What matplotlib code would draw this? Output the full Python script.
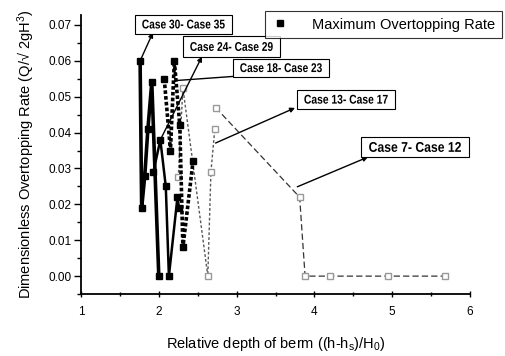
import matplotlib
matplotlib.use("Agg")
import matplotlib.pyplot as plt
from matplotlib.patches import Rectangle, PathPatch
from matplotlib.textpath import TextPath
from matplotlib.font_manager import FontProperties
from matplotlib.transforms import Affine2D, ScaledTranslation
from matplotlib.ticker import MultipleLocator, FormatStrFormatter

plt.rcParams["font.family"] = ["Liberation Sans", "DejaVu Sans"]
plt.rcParams["mathtext.fontset"] = "custom"
plt.rcParams["mathtext.rm"] = "Liberation Sans"
plt.rcParams["mathtext.it"] = "Liberation Sans"

# values
x_30_35 = [1.76, 1.78, 1.82, 1.86, 1.91, 2.00]
y_30_35 = [0.060, 0.019, 0.028, 0.041, 0.054, 0.000]

x_24_29 = [1.93, 2.02, 2.09, 2.13, 2.24, 2.26]
y_24_29 = [0.029, 0.038, 0.025, 0.000, 0.022, 0.019]

x_18_23 = [2.07, 2.15, 2.20, 2.27, 2.31, 2.44]
y_18_23 = [0.055, 0.035, 0.060, 0.042, 0.008, 0.032]

x_13_17 = [2.25, 2.31, 2.63, 2.67, 2.72]
y_13_17 = [0.0275, 0.0525, 0.000, 0.029, 0.041]

x_7_12 = [2.73, 3.81, 3.88, 4.20, 4.95, 5.68]
y_7_12 = [0.047, 0.022, 0.000, 0.000, 0.000, 0.000]

labels = ["Case 30- Case 35", "Case 24- Case 29", "Case 18- Case 23",
          "Case 13- Case 17", "Case 7- Case 12"]
# arrow start on curve, arrow tip at the box
arrow_from = [(1.76, 0.060), (2.02, 0.038), (2.21, 0.0545), (2.73, 0.0371), (3.78, 0.0249)]
arrow_to = [(1.925, 0.0679), (2.555, 0.0612), (3.237, 0.0561), (3.751, 0.0469), (4.689, 0.0332)]
# label boxes: x0, x1, y0, y1
boxes = [(1.694, 2.941, 0.0676, 0.0729), (2.311, 3.558, 0.0612, 0.0668),
         (2.954, 4.188, 0.0556, 0.0606), (3.776, 5.036, 0.0466, 0.0520),
         (4.599, 5.987, 0.0332, 0.0388)]
# ink height of the label text in pixels
label_h = [9, 9, 9, 9, 10]

fig = plt.figure(figsize=(5.06, 3.56), dpi=100)
ax = fig.add_axes([0.160, 0.174, 0.769, 0.784])

ax.plot(x_30_35, y_30_35, color="k", lw=2.6, marker="s", ms=4.5, zorder=5)
ax.plot(x_24_29, y_24_29, color="k", lw=1.8, marker="s", ms=4.5, zorder=5)
ax.plot(x_18_23, y_18_23, color="k", lw=2.6, ls=(0, (1, 0.6)), marker="s", ms=4.5, zorder=4)
ax.plot(x_13_17, y_13_17, color="0.35", lw=1.0, ls=(0, (2, 1.5)), marker="s", ms=4,
        mfc="white", mec="0.6", zorder=3)
ax.plot(x_7_12, y_7_12, color="0.2", lw=0.9, ls=(0, (5, 2.5)), marker="s", ms=4,
        mfc="white", mec="0.6", zorder=3)

ax.set_xlim(1, 6)
ax.set_ylim(-0.005, 0.0728)

# condensed bold labels: text outlines squeezed horizontally to fit the boxes
fp = FontProperties(family="Liberation Sans", weight="bold")
for lab, a0, a1, b, h in zip(labels, arrow_from, arrow_to, boxes, label_h):
    ax.annotate("", xy=a1, xytext=a0, annotation_clip=False,
                arrowprops=dict(arrowstyle="-|>", color="k", lw=1.0,
                                mutation_scale=7, shrinkA=0, shrinkB=0), zorder=6)
    ax.add_patch(Rectangle((b[0], b[2]), b[1] - b[0], b[3] - b[2], fc="white",
                           ec="k", lw=0.8, zorder=7, clip_on=False))
    tp = TextPath((0, 0), lab, size=10, prop=fp)
    ext = tp.get_extents()
    box_w = ax.transData.transform((b[1], 0))[0] - ax.transData.transform((b[0], 0))[0]
    sx = 0.85 * box_w / ext.width
    sy = h / ext.height
    tr = (Affine2D().translate(-(ext.x0 + ext.width / 2), -(ext.y0 + ext.height / 2))
          .scale(sx, sy)
          + ScaledTranslation((b[0] + b[1]) / 2, (b[2] + b[3]) / 2, ax.transData))
    ax.add_patch(PathPatch(tp, transform=tr, fc="k", lw=0, zorder=8, clip_on=False))

# legend box
leg_h, = ax.plot([], [], ls="none", marker="s", color="k", ms=5)
leg = fig.legend([leg_h], ["Maximum Overtopping Rate"], loc="center",
                 bbox_to_anchor=(0.757, 0.931), fontsize=10.5, frameon=True,
                 fancybox=False, edgecolor="k", handlelength=1.2,
                 handletextpad=1.6, borderpad=0.45, borderaxespad=0)
leg.get_frame().set_linewidth(0.8)

ax.xaxis.set_major_locator(MultipleLocator(1))
ax.xaxis.set_minor_locator(MultipleLocator(0.5))
ax.yaxis.set_major_locator(MultipleLocator(0.01))
ax.yaxis.set_minor_locator(MultipleLocator(0.005))
ax.yaxis.set_major_formatter(FormatStrFormatter("%.2f"))
ax.tick_params(axis="both", which="major", labelsize=8.5, length=5, width=1)
ax.tick_params(axis="both", which="minor", length=3, width=1)
ax.tick_params(axis="x", which="both", direction="inout", pad=6)
ax.tick_params(axis="y", which="both", direction="out", pad=2)

for side in ["top", "right"]:
    ax.spines[side].set_visible(False)
for side in ["left", "bottom"]:
    ax.spines[side].set_linewidth(1.3)

ax.set_xlabel("Relative depth of berm ((h-h$_s$)/H$_0$)", fontsize=10.5, labelpad=12)
ax.set_ylabel("Dimensionless Overtopping Rate (Q/\u221a 2gH$^3$)", fontsize=10.5, labelpad=8)

fig.savefig("out.png", dpi=100)
